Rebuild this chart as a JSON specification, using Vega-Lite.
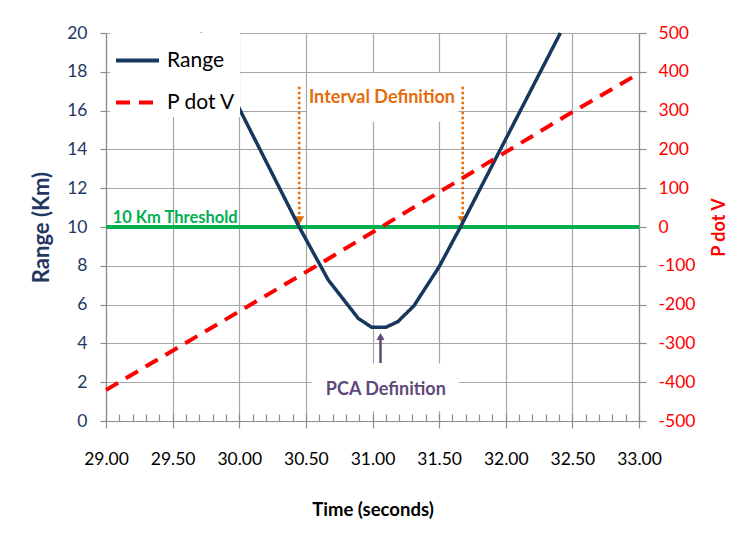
{
  "$schema": "https://vega.github.io/schema/vega-lite/v6.json",
  "width": 533,
  "height": 388,
  "autosize": {"type": "none"},
  "padding": {"left": 106, "top": 33, "right": 102, "bottom": 122},
  "background": "white",
  "config": {
    "view": {"stroke": null},
    "font": "Lato",
    "axis": {"domainColor": "#8c8c8c", "tickColor": "#8c8c8c", "gridColor": "#a6a6a6", "gridWidth": 1.2, "domainWidth": 1.2, "tickWidth": 1.2, "labelFont": "Lato", "titleFont": "Lato"},
    "legend": {"labelFont": "Lato"}
  },
  "datasets": {
    "range": [
      {"t": 29.705, "r": 20.0, "series": "Range"},
      {"t": 29.98, "r": 16.38, "series": "Range"},
      {"t": 30.45, "r": 10.0, "series": "Range"},
      {"t": 30.668, "r": 7.27, "series": "Range"},
      {"t": 30.893, "r": 5.29, "series": "Range"},
      {"t": 30.994, "r": 4.83, "series": "Range"},
      {"t": 31.10, "r": 4.83, "series": "Range"},
      {"t": 31.19, "r": 5.12, "series": "Range"},
      {"t": 31.31, "r": 5.93, "series": "Range"},
      {"t": 31.50, "r": 7.95, "series": "Range"},
      {"t": 31.66, "r": 10.0, "series": "Range"},
      {"t": 32.41, "r": 20.0, "series": "Range"}
    ],
    "pdotv": [
      {"t": 29.0, "p": -420, "series": "P dot V"},
      {"t": 30.61, "p": -94, "series": "P dot V"},
      {"t": 32.44, "p": 284, "series": "P dot V"},
      {"t": 33.0, "p": 396, "series": "P dot V"}
    ],
    "boxes": [
      {"t": 30.51, "t2": 31.644, "r": 15.43, "r2": 17.92},
      {"t": 30.544, "t2": 31.65, "r": 0.5, "r2": 2.97}
    ],
    "intervalArrows": [
      {"t": 30.45, "r": 17.23, "r2": 10.5, "head": 10.33},
      {"t": 31.677, "r": 17.23, "r2": 10.5, "head": 10.33}
    ],
    "pcaArrow": [
      {"t": 31.06, "r": 2.99, "r2": 4.3, "head": 4.36}
    ]
  },
  "resolve": {"scale": {"y": "independent"}, "axis": {"x": "independent", "y": "independent"}},
  "layer": [
    {
      "layer": [
        {
          "data": {"name": "boxes"},
          "mark": {"type": "rect", "fill": "white", "stroke": null},
          "encoding": {
            "x": {"field": "t", "type": "quantitative", "scale": {"domain": [29, 33]}, "axis": null},
            "x2": {"field": "t2"},
            "y": {"field": "r", "type": "quantitative", "scale": {"domain": [0, 20]}, "axis": null},
            "y2": {"field": "r2"}
          }
        },
        {
          "data": {"values": [{"t": 29, "t2": 33, "r": 10}]},
          "mark": {"type": "rule", "color": "#00B050", "strokeWidth": 4},
          "encoding": {
            "x": {"field": "t", "type": "quantitative", "scale": {"domain": [29, 33]}, "axis": null},
            "x2": {"field": "t2"},
            "y": {"field": "r", "type": "quantitative", "scale": {"domain": [0, 20]}, "axis": null}
          }
        },
        {
          "data": {"name": "intervalArrows"},
          "mark": {"type": "rule", "color": "#E46C0A", "strokeWidth": 2.6, "strokeDash": [2.6, 2.4]},
          "encoding": {
            "x": {"field": "t", "type": "quantitative", "scale": {"domain": [29, 33]}, "axis": null},
            "y": {"field": "r", "type": "quantitative", "scale": {"domain": [0, 20]}, "axis": null},
            "y2": {"field": "r2"}
          }
        },
        {
          "data": {"name": "intervalArrows"},
          "mark": {"type": "point", "shape": "triangle-down", "filled": true, "size": 100, "color": "#E46C0A", "opacity": 1},
          "encoding": {
            "x": {"field": "t", "type": "quantitative", "scale": {"domain": [29, 33]}, "axis": null},
            "y": {"field": "head", "type": "quantitative", "scale": {"domain": [0, 20]}, "axis": null}
          }
        },
        {
          "data": {"name": "pcaArrow"},
          "mark": {"type": "rule", "color": "#5F497A", "strokeWidth": 2.5},
          "encoding": {
            "x": {"field": "t", "type": "quantitative", "scale": {"domain": [29, 33]}, "axis": null},
            "y": {"field": "r", "type": "quantitative", "scale": {"domain": [0, 20]}, "axis": null},
            "y2": {"field": "r2"}
          }
        },
        {
          "data": {"name": "pcaArrow"},
          "mark": {"type": "point", "shape": "triangle-up", "filled": true, "size": 64, "color": "#5F497A", "opacity": 1},
          "encoding": {
            "x": {"field": "t", "type": "quantitative", "scale": {"domain": [29, 33]}, "axis": null},
            "y": {"field": "head", "type": "quantitative", "scale": {"domain": [0, 20]}, "axis": null}
          }
        },
        {
          "data": {"values": [{"t": 31.071, "r": 16.63, "label": "Interval Definition"}]},
          "mark": {"type": "text", "color": "#E46C0A", "fontWeight": "bold", "fontSize": 18, "align": "center", "baseline": "middle"},
          "encoding": {
            "x": {"field": "t", "type": "quantitative", "scale": {"domain": [29, 33]}, "axis": null},
            "y": {"field": "r", "type": "quantitative", "scale": {"domain": [0, 20]}, "axis": null},
            "text": {"field": "label"}
          }
        },
        {
          "data": {"values": [{"t": 31.10, "r": 1.6, "label": "PCA Definition"}]},
          "mark": {"type": "text", "color": "#5F497A", "fontWeight": "bold", "fontSize": 18, "align": "center", "baseline": "middle"},
          "encoding": {
            "x": {"field": "t", "type": "quantitative", "scale": {"domain": [29, 33]}, "axis": null},
            "y": {"field": "r", "type": "quantitative", "scale": {"domain": [0, 20]}, "axis": null},
            "text": {"field": "label"}
          }
        },
        {
          "data": {"values": [{"t": 29.05, "r": 10.45, "label": "10 Km Threshold"}]},
          "mark": {"type": "text", "color": "#00B050", "fontWeight": "bold", "fontSize": 16.5, "align": "left", "baseline": "middle"},
          "encoding": {
            "x": {"field": "t", "type": "quantitative", "scale": {"domain": [29, 33]}, "axis": null},
            "y": {"field": "r", "type": "quantitative", "scale": {"domain": [0, 20]}, "axis": null},
            "text": {"field": "label"}
          }
        }
      ]
    },
    {
      "data": {"name": "range"},
      "mark": {"type": "line", "strokeWidth": 3.5, "strokeJoin": "round"},
      "encoding": {
        "x": {
          "field": "t", "type": "quantitative",
          "scale": {"domain": [29, 33]},
          "axis": {
            "orient": "bottom",
            "title": "Time (seconds)",
            "values": [29, 29.5, 30, 30.5, 31, 31.5, 32, 32.5, 33],
            "format": ".2f",
            "grid": true,
            "tickSize": 7,
            "labelPadding": 22,
            "labelFontSize": 17.5,
            "labelColor": "black",
            "labelFlush": false,
            "labelOverlap": false,
            "titleFontSize": 18.5,
            "titleFontWeight": "bold",
            "titleColor": "black",
            "titlePadding": 33
          }
        },
        "y": {
          "field": "r", "type": "quantitative",
          "scale": {"domain": [0, 20]},
          "axis": {
            "orient": "left",
            "title": "Range (Km)",
            "values": [0, 2, 4, 6, 8, 10, 12, 14, 16, 18, 20],
            "grid": true,
            "tickSize": 6,
            "labelPadding": 13,
            "labelFontSize": 17.5,
            "labelColor": "#1F3864",
            "labelOverlap": false,
            "titleFontSize": 22,
            "titleFontWeight": "bold",
            "titleColor": "#1F3864",
            "titlePadding": 13
          }
        },
        "color": {
          "field": "series", "type": "nominal",
          "scale": {"domain": ["Range", "P dot V"], "range": ["#17375E", "#FF0000"]},
          "legend": {
            "orient": "none", "legendX": 4, "legendY": 0, "title": null,
            "fillColor": "white", "padding": 4, "symbolType": "stroke", "symbolSize": 1849,
            "symbolStrokeWidth": 4, "labelFontSize": 21, "labelColor": "black", "labelOffset": 6, "rowPadding": 8
          }
        },
        "strokeDash": {
          "field": "series", "type": "nominal",
          "scale": {"domain": ["Range", "P dot V"], "range": [[1, 0], [14, 9]]},
          "legend": {
            "orient": "none", "legendX": 4, "legendY": 0, "title": null,
            "fillColor": "white", "padding": 4, "symbolType": "stroke", "symbolSize": 1849,
            "symbolStrokeWidth": 4, "labelFontSize": 21, "labelColor": "black", "labelOffset": 6, "rowPadding": 8
          }
        }
      }
    },
    {
      "data": {"name": "pdotv"},
      "mark": {"type": "line", "strokeWidth": 4, "strokeCap": "butt"},
      "encoding": {
        "x": {
          "field": "t", "type": "quantitative",
          "scale": {"domain": [29, 33]},
          "axis": {
            "orient": "bottom",
            "title": null,
            "values": [29, 29.1, 29.2, 29.3, 29.4, 29.5, 29.6, 29.7, 29.8, 29.9, 30, 30.1, 30.2, 30.3, 30.4, 30.5, 30.6, 30.7, 30.8, 30.9, 31, 31.1, 31.2, 31.3, 31.4, 31.5, 31.6, 31.7, 31.8, 31.9, 32, 32.1, 32.2, 32.3, 32.4, 32.5, 32.6, 32.7, 32.8, 32.9, 33],
            "labels": false,
            "grid": false,
            "domain": false,
            "tickSize": -7
          }
        },
        "y": {
          "field": "p", "type": "quantitative",
          "scale": {"domain": [-500, 500]},
          "axis": {
            "orient": "right",
            "title": "P dot V",
            "values": [-500, -400, -300, -200, -100, 0, 100, 200, 300, 400, 500],
            "labelExpr": "toString(datum.value)",
            "grid": false,
            "tickSize": 7,
            "labelPadding": 12,
            "labelFontSize": 17.5,
            "labelColor": "#FF0000",
            "titleFontSize": 18,
            "titleFontWeight": "bold",
            "titleColor": "#FF0000",
            "titleAngle": 270,
            "titleBaseline": "top",
            "titlePadding": 16
          }
        },
        "color": {"field": "series", "type": "nominal"},
        "strokeDash": {"field": "series", "type": "nominal"}
      }
    }
  ]
}
